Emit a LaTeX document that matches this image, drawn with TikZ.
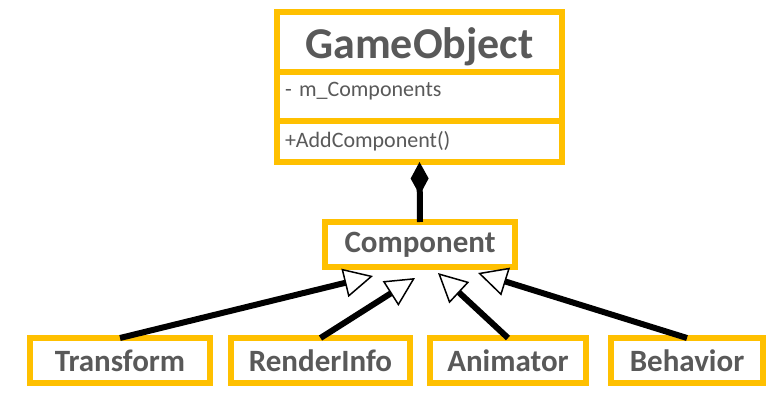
\documentclass[tikz,border=0pt]{standalone}
\usepackage{fontspec}
\setmainfont{Carlito}
\usetikzlibrary{arrows.meta}
\definecolor{umlgold}{HTML}{FFC000}
\definecolor{umltext}{HTML}{595959}
\tikzset{
  umlbox/.style={draw=umlgold, line width=6pt, fill=white, outer sep=0pt, text=umltext, inner sep=0pt},
  rowbox/.style={umlbox, minimum width=285pt, text width=269pt, align=left, font=\fontsize{22}{25}\selectfont},
  leafbox/.style={umlbox, minimum height=45pt, font=\fontsize{31}{34}\selectfont\bfseries},
  inherit/.style={line width=6pt, -{Triangle[length=29pt, width=29pt, line width=1.5pt, fill=white]}},
  compose/.style={line width=6pt, -{Diamond[length=33pt, width=18pt, line width=0pt]}}
}
\begin{document}
\begin{tikzpicture}[x=1pt, y=-1pt]
\useasboundingbox (0,0) rectangle (772,414);
% GameObject class
\node[umlbox, minimum width=285pt, minimum height=60pt, text height=40pt, font=\fontsize{44}{48}\selectfont\bfseries] (gotitle) at (419.5,42) {GameObject};
\node[rowbox, minimum height=49pt, text depth=14pt] (goattr) at (419.5,96.5) {- m\_Components};
\node[rowbox, minimum height=41pt] (goops) at (419.5,141.5) {+AddComponent()};
% Component
\node[leafbox, minimum width=190pt] (comp) at (420,244.5) {Component};
\draw[compose] (comp.north) -- (goops.south);
% subclasses
\node[leafbox, minimum width=180pt] (transform) at (120,360.5) {Transform};
\node[leafbox, minimum width=179pt] (render) at (320.5,360.5) {RenderInfo};
\node[leafbox, minimum width=156pt] (animator) at (508,360.5) {Animator};
\node[leafbox, minimum width=152pt] (behavior) at (687,360.5) {Behavior};
\coordinate (tipT) at (373,276);
\coordinate (tipR) at (415,278);
\coordinate (tipA) at (438,273);
\coordinate (tipB) at (478,273);
\draw[inherit] (transform.north) -- (tipT);
\draw[inherit] (render.north) -- (tipR);
\draw[inherit] (animator.north) -- (tipA);
\draw[inherit] (behavior.north) -- (tipB);
\end{tikzpicture}
\end{document}
